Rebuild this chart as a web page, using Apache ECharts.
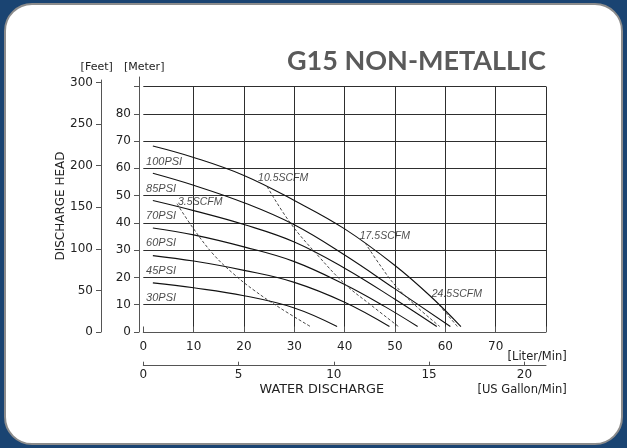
<!DOCTYPE html>
<html><head><meta charset="utf-8">
<script src="https://cdn.jsdelivr.net/npm/echarts@6/dist/echarts.min.js"></script>
<style>
html,body{margin:0;padding:0;width:627px;height:448px;background:#1a4472;overflow:hidden}
#card{position:absolute;left:4px;top:3px;width:615px;height:438px;background:#fff;border:2px solid #8c8c8c;border-radius:28px;}
#chart{position:absolute;left:0;top:0;width:627px;height:448px;}
</style></head><body>
<div id="card"></div><div id="chart"></div>
<script>
// ---- tick labels ----
const literTicks = [0, 10, 20, 30, 40, 50, 60, 70];
const gallonTicks = [0, 5, 10, 15, 20];
const meterTickMarks = [0, 10, 20, 30, 40, 50, 60, 70, 80, 90];
const meterTicks = [0, 10, 20, 30, 40, 50, 60, 70, 80];
const feetTicks = [0, 50, 100, 150, 200, 250, 300];

// ---- performance curves: [liter/min, head in meters] ----
const psi100 = [[1.9,68.2],[10,64.0],[20,57.4],[30,48.2],[40,37.8],[50,24.4],[57,13.2],[63.1,2.0]];
const psi85  = [[1.9,58.2],[10,53.8],[20,47.4],[30,39.3],[40,28.2],[50,15.8],[61.0,2.0]];
const psi70  = [[1.9,48.2],[10,44.5],[20,39.4],[30,33.0],[40,23.4],[50,12.0],[58.3,2.0]];
const psi60  = [[1.9,38.1],[10,35.6],[20,31.2],[30,25.8],[40,17.4],[48,9.3],[54.5,2.0]];
const psi45  = [[1.9,28.0],[10,26.0],[20,22.6],[30,18.2],[40,10.9],[48.9,2.0]];
const psi30  = [[1.9,18.0],[10,16.2],[20,13.3],[30,8.8],[38.5,2.0]];

// ---- air consumption curves ----
const scfm35  = [[6.7,47.0],[10,37.8],[14,28.3],[18,21.2],[22,15.3],[27,9.0],[33.2,2.0]];
const scfm105 = [[24.6,53.3],[29.2,40.0],[34.8,27.8],[40.1,17.5],[45,10.2],[50.7,2.0]];
const scfm175 = [[44.1,32.6],[47,24.6],[50,17.2],[54,9.8],[58.9,2.0]];
const scfm245 = [[58.1,11.3],[60.2,6.8],[62.4,2.0]];

// ---- curve label names and anchors [liter/min, meters] ----
const psiNames = ['100PSI','85PSI','70PSI','60PSI','45PSI','30PSI'];
const psiAnchors = [[0.55,62.4],[0.55,52.4],[0.55,42.6],[0.55,32.5],[0.55,22.5],[0.55,12.4]];
const scfmNames = ['3.5SCFM','10.5SCFM','17.5SCFM','24.5SCFM'];
const scfmAnchors = [[6.9,47.8],[22.8,56.5],[43.0,35.0],[57.3,13.9]];

const LITERS_PER_GALLON = 3.78541;
const FEET_PER_METER = 1 / 0.3048;

// plot geometry
const PX_PER_M = 245.5 / 90;
const gridA = {left:143.3, top:86.5, width:402.7, height:245.5};
const gridBottom = gridA.top + gridA.height;
const feetTop = 80, meterTop = 77;

const tickFont = {fontFamily:'DejaVu Sans', fontSize:12, color:'#222'};
const axisCol = '#555';
const gridCol = '#2e2e2e';

const solid = {color:'#111', width:1.1};
const dashed = {color:'#333', width:0.9, type:[3,2]};

function curve(data, ls){
  return {type:'line', data:data, smooth:0.4, symbol:'none', showSymbol:false,
          lineStyle:ls, xAxisIndex:0, yAxisIndex:0, silent:true, z:3};
}
function labels(names, anchors, size){
  return {type:'scatter', xAxisIndex:0, yAxisIndex:0, symbolSize:0, silent:true, z:4,
    data: names.map((n,i)=>({name:n, value:anchors[i]})),
    label:{show:true, position:'inside', formatter:'{b}', align:'left', verticalAlign:'middle',
      fontFamily:'Liberation Sans', fontStyle:'italic', fontSize:size, color:'#1a1a1a'}};
}

const chart = echarts.init(document.getElementById('chart'), null, {renderer:'canvas'});
chart.setOption({
  animation:false,
  backgroundColor:'transparent',
  grid:[
    {left:gridA.left, top:gridA.top, width:gridA.width, height:gridA.height},
    {left:101, top:feetTop, width:1, height:gridBottom-feetTop},
    {left:139, top:meterTop, width:1, height:gridBottom-meterTop}
  ],
  xAxis:[
    {gridIndex:0, type:'value', min:0, max:80, interval:10, position:'bottom', offset:5.5,
     axisLine:{show:true, lineStyle:{color:axisCol, width:1}},
     axisTick:{show:true, inside:true, length:5.5, lineStyle:{color:axisCol}},
     axisLabel:Object.assign({customValues:literTicks, margin:3}, tickFont),
     splitLine:{show:true, showMinLine:false, lineStyle:{color:gridCol, width:1}}},
    {gridIndex:0, type:'value', min:0, max:80/LITERS_PER_GALLON, position:'bottom', offset:33.7,
     axisLine:{show:true, onZero:false, lineStyle:{color:axisCol, width:1}},
     axisTick:{show:true, inside:true, length:4, customValues:gallonTicks, lineStyle:{color:axisCol}},
     axisLabel:Object.assign({customValues:gallonTicks, margin:3}, tickFont),
     splitLine:{show:false}},
    {gridIndex:1, type:'value', show:false},
    {gridIndex:2, type:'value', show:false}
  ],
  yAxis:[
    {gridIndex:0, type:'value', min:0, max:90, interval:10,
     axisLine:{show:false}, axisTick:{show:false}, axisLabel:{show:false},
     splitLine:{show:true, showMinLine:false, lineStyle:{color:gridCol, width:1}}},
    {gridIndex:1, type:'value', min:0, max:(gridBottom-feetTop)/PX_PER_M*FEET_PER_METER, position:'left',
     axisLine:{show:true, onZero:false, lineStyle:{color:axisCol, width:1}},
     axisTick:{show:true, length:5, customValues:feetTicks, lineStyle:{color:axisCol}},
     axisLabel:Object.assign({customValues:feetTicks, margin:8}, tickFont),
     splitLine:{show:false}},
    {gridIndex:2, type:'value', min:0, max:(gridBottom-meterTop)/PX_PER_M, position:'left',
     axisLine:{show:true, onZero:false, lineStyle:{color:axisCol, width:1}},
     axisTick:{show:true, length:5, customValues:meterTickMarks, lineStyle:{color:axisCol}},
     axisLabel:Object.assign({customValues:meterTicks, margin:8}, tickFont),
     splitLine:{show:false}}
  ],
  graphic:[
    {type:'text', x:287, y:61, style:{text:'G15 NON-METALLIC', font:'bold 27px Lato', fill:'#5a5a5a', textAlign:'left', textVerticalAlign:'middle'}},
    {type:'text', x:96.7, y:67, style:{text:'[Feet]', font:'11px "DejaVu Sans"', fill:'#222', textAlign:'center', textVerticalAlign:'middle'}},
    {type:'text', x:144.2, y:67, style:{text:'[Meter]', font:'11px "DejaVu Sans"', fill:'#222', textAlign:'center', textVerticalAlign:'middle'}},
    {type:'text', x:61, y:206, rotation:Math.PI/2, style:{text:'DISCHARGE HEAD', font:'12px "DejaVu Sans"', fill:'#222', textAlign:'center', textVerticalAlign:'middle'}},
    {type:'text', x:566.7, y:356.7, style:{text:'[Liter/Min]', font:'11.5px "DejaVu Sans"', fill:'#222', textAlign:'right', textVerticalAlign:'middle'}},
    {type:'text', x:566.7, y:390, style:{text:'[US Gallon/Min]', font:'11.5px "DejaVu Sans"', fill:'#222', textAlign:'right', textVerticalAlign:'middle'}},
    {type:'text', x:321.7, y:390, style:{text:'WATER DISCHARGE', font:'12.8px "DejaVu Sans"', fill:'#222', textAlign:'center', textVerticalAlign:'middle'}}
  ],
  series:[
    curve(psi100, solid), curve(psi85, solid), curve(psi70, solid),
    curve(psi60, solid), curve(psi45, solid), curve(psi30, solid),
    curve(scfm35, dashed), curve(scfm105, dashed), curve(scfm175, dashed), curve(scfm245, dashed),
    labels(psiNames, psiAnchors, 11),
    labels(scfmNames, scfmAnchors, 10.5)
  ]
});
</script>
</body></html>
